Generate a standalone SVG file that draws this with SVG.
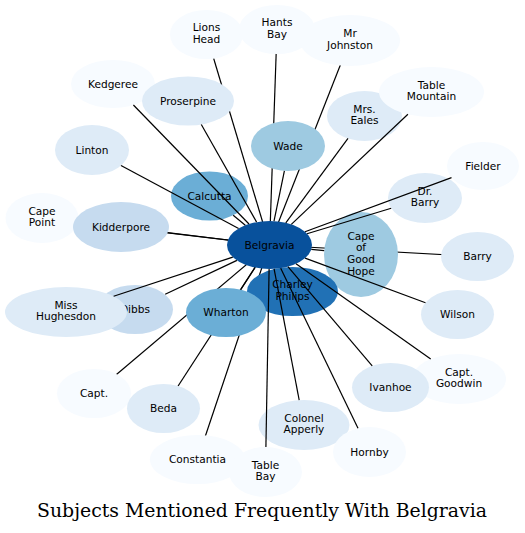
<svg xmlns="http://www.w3.org/2000/svg" width="525" height="533" viewBox="0 0 525 533">
<style>
.e line{stroke:#000;stroke-width:1.2;fill:none}
text{font-family:"DejaVu Sans",sans-serif;font-size:10.6px;fill:#000;text-anchor:middle}
.title{font-family:"DejaVu Serif",serif;font-size:18.6px}
.c1{fill:#f7fbff}.c2{fill:#deebf7}.c3{fill:#c6dbef}.c4{fill:#9ecae1}.c5{fill:#6baed6}.c7{fill:#2171b5}.c8{fill:#08519c}
</style>
<rect width="525" height="533" fill="#fff"/>
<g id="edges-back" class="e">
<line x1="206.5" y1="34.5" x2="269.5" y2="245"/>
<line x1="277" y1="29.5" x2="269.5" y2="245"/>
<line x1="350" y1="40.5" x2="269.5" y2="245"/>
<line x1="42" y1="218" x2="269.5" y2="245"/>
<line x1="94" y1="393.5" x2="269.5" y2="245"/>
<line x1="163.5" y1="408.5" x2="269.5" y2="245"/>
<line x1="197.5" y1="459.5" x2="269.5" y2="245"/>
<line x1="477.5" y1="256.5" x2="269.5" y2="245"/>
<line x1="292.5" y1="291.5" x2="269.5" y2="245"/>
</g>
<g id="n-cape-point"><ellipse class="c1" cx="42" cy="218" rx="36.5" ry="25"/><text><tspan x="42" y="214.7">Cape</tspan><tspan x="42" y="226.4">Point</tspan></text></g>
<g id="n-kidderpore"><ellipse class="c3" cx="121" cy="227" rx="48" ry="25"/><text x="121" y="230.6">Kidderpore</text></g>
<g id="n-kedgeree"><ellipse class="c1" cx="113" cy="84" rx="42" ry="24"/><text x="113" y="87.6">Kedgeree</text></g>
<g id="n-proserpine"><ellipse class="c2" cx="188" cy="101" rx="46" ry="24.5"/><text x="188" y="104.6">Proserpine</text></g>
<g id="n-linton"><ellipse class="c2" cx="92" cy="150" rx="37" ry="25"/><text x="92" y="153.6">Linton</text></g>
<g id="n-lions-head"><ellipse class="c1" cx="206.5" cy="34.5" rx="36.5" ry="24.5"/><text><tspan x="206.5" y="31.2">Lions</tspan><tspan x="206.5" y="42.9">Head</tspan></text></g>
<g id="n-hants-bay"><ellipse class="c1" cx="277" cy="29.5" rx="38" ry="24.5"/><text><tspan x="277" y="26.2">Hants</tspan><tspan x="277" y="37.9">Bay</tspan></text></g>
<g id="n-mr-johnston"><ellipse class="c1" cx="350" cy="40.5" rx="50" ry="25.5"/><text><tspan x="350" y="37.2">Mr</tspan><tspan x="350" y="48.9">Johnston</tspan></text></g>
<g id="n-mrs-eales"><ellipse class="c2" cx="364.5" cy="116" rx="37.5" ry="25"/><text><tspan x="364.5" y="112.7">Mrs.</tspan><tspan x="364.5" y="124.4">Eales</tspan></text></g>
<g id="n-table-mountain"><ellipse class="c1" cx="431.5" cy="92" rx="52.5" ry="25"/><text><tspan x="431.5" y="88.7">Table</tspan><tspan x="431.5" y="100.4">Mountain</tspan></text></g>
<g id="n-wade"><ellipse class="c4" cx="288" cy="146" rx="37" ry="25"/><text x="288" y="149.6">Wade</text></g>
<g id="n-fielder"><ellipse class="c1" cx="483" cy="166" rx="36" ry="24"/><text x="483" y="169.6">Fielder</text></g>
<g id="n-dr-barry"><ellipse class="c2" cx="425" cy="198" rx="37" ry="25"/><text><tspan x="425" y="194.7">Dr.</tspan><tspan x="425" y="206.4">Barry</tspan></text></g>
<g id="n-calcutta"><ellipse class="c5" cx="209.5" cy="196" rx="38.5" ry="24.5"/><text x="209.5" y="199.6">Calcutta</text></g>
<g id="n-cape-of-good-hope"><ellipse class="c4" cx="361" cy="254.5" rx="37" ry="42.5"/><text><tspan x="361" y="239.5">Cape</tspan><tspan x="361" y="251.2">of</tspan><tspan x="361" y="262.9">Good</tspan><tspan x="361" y="274.6">Hope</tspan></text></g>
<g id="n-charley-philips"><ellipse class="c7" cx="292.5" cy="291.5" rx="45.5" ry="24.5"/><text><tspan x="292.5" y="288.2">Charley</tspan><tspan x="292.5" y="299.9">Philips</tspan></text></g>
<g id="n-belgravia"><ellipse class="c8" cx="269.5" cy="245" rx="42.5" ry="24"/><text x="269.5" y="248.6">Belgravia</text></g>
<g id="n-wharton"><ellipse class="c5" cx="226" cy="312.5" rx="40" ry="24.5"/><text x="226" y="316.1">Wharton</text></g>
<g id="n-barry"><ellipse class="c2" cx="477.5" cy="256.5" rx="36.5" ry="24.5"/><text x="477.5" y="260.1">Barry</text></g>
<g id="n-wilson"><ellipse class="c2" cx="457.5" cy="314.5" rx="36.5" ry="24.5"/><text x="457.5" y="318.1">Wilson</text></g>
<g id="n-dibbs"><ellipse class="c3" cx="135" cy="309.5" rx="38" ry="24.5"/><text x="135" y="313.1">Dibbs</text></g>
<g id="n-miss-hughesdon"><ellipse class="c2" cx="66" cy="312" rx="61" ry="25"/><text><tspan x="66" y="308.7">Miss</tspan><tspan x="66" y="320.4">Hughesdon</tspan></text></g>
<g id="n-capt"><ellipse class="c1" cx="94" cy="393.5" rx="37" ry="24.5"/><text x="94" y="397.1">Capt.</text></g>
<g id="n-beda"><ellipse class="c2" cx="163.5" cy="408.5" rx="36.5" ry="24.5"/><text x="163.5" y="412.1">Beda</text></g>
<g id="n-constantia"><ellipse class="c1" cx="197.5" cy="459.5" rx="47.5" ry="24.5"/><text x="197.5" y="463.1">Constantia</text></g>
<g id="n-colonel-apperly"><ellipse class="c2" cx="304" cy="425" rx="45.5" ry="25"/><text><tspan x="304" y="421.7">Colonel</tspan><tspan x="304" y="433.4">Apperly</tspan></text></g>
<g id="n-table-bay"><ellipse class="c1" cx="265.5" cy="472" rx="36.5" ry="25"/><text><tspan x="265.5" y="468.7">Table</tspan><tspan x="265.5" y="480.4">Bay</tspan></text></g>
<g id="n-hornby"><ellipse class="c1" cx="369.5" cy="452" rx="36.5" ry="25"/><text x="369.5" y="455.6">Hornby</text></g>
<g id="n-capt-goodwin"><ellipse class="c1" cx="459" cy="379" rx="47" ry="25"/><text><tspan x="459" y="375.7">Capt.</tspan><tspan x="459" y="387.4">Goodwin</tspan></text></g>
<g id="n-ivanhoe"><ellipse class="c2" cx="390.5" cy="387.5" rx="38.5" ry="24.5"/><text x="390.5" y="391.1">Ivanhoe</text></g>
<g id="edges-front" class="e">
<line x1="249" y1="224" x2="133.4" y2="105"/>
<line x1="238.6" y1="228.5" x2="121" y2="165.5"/>
<line x1="256.6" y1="222.1" x2="201.3" y2="124.5"/>
<line x1="305" y1="231.8" x2="451.5" y2="177.6"/>
<line x1="307" y1="233.7" x2="391.2" y2="208.2"/>
<line x1="232.8" y1="257.1" x2="113.6" y2="296.3"/>
<line x1="269.1" y1="269" x2="265.9" y2="447"/>
<line x1="274.1" y1="268.9" x2="299.2" y2="400.1"/>
<line x1="280.7" y1="268.2" x2="358" y2="428.3"/>
<line x1="287.9" y1="266.6" x2="372.2" y2="365.9"/>
<line x1="296" y1="263.8" x2="430.7" y2="359"/>
<line x1="305.1" y1="258.1" x2="425.5" y2="302.7"/>
<line x1="228" y1="240" x2="167.7" y2="232.7"/>
<line x1="236.9" y1="260.4" x2="165.2" y2="294.3"/>
<line x1="255" y1="267.6" x2="240.7" y2="289.7"/>
<line x1="245.3" y1="225.3" x2="233.2" y2="215.3"/>
<line x1="274" y1="221.1" x2="284.4" y2="170.8"/>
<line x1="311.3" y1="249.3" x2="324.2" y2="250.7"/>
<line x1="285.8" y1="222.8" x2="348" y2="138.4"/>
<line x1="291.3" y1="224.4" x2="407.9" y2="114.3"/>
</g>
<text class="title" x="262" y="517" textLength="450" lengthAdjust="spacingAndGlyphs">Subjects Mentioned Frequently With Belgravia</text>
</svg>
